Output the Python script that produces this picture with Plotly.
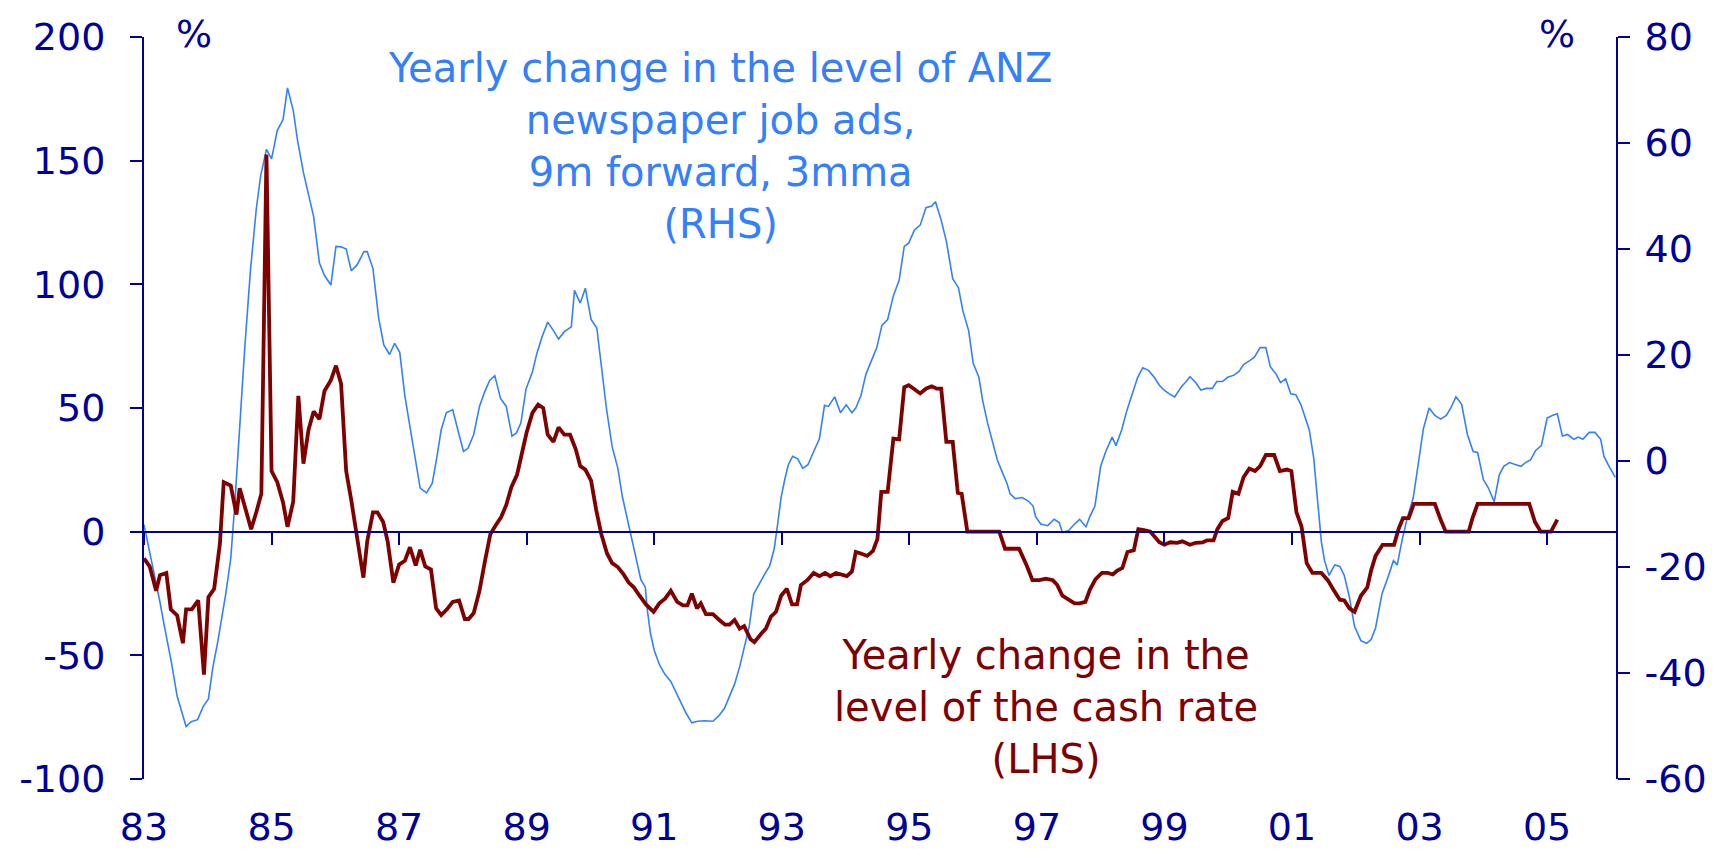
import plotly.graph_objects as go

# ---- data ----
# ANZ newspaper job ads, yearly change, 9m forward, 3mma (RHS, %)
blue_year = [1983.00, 1983.12, 1983.25, 1983.32, 1983.43, 1983.52, 1983.66, 1983.74, 1983.84, 1983.93,
             1984.01, 1984.08, 1984.16, 1984.28, 1984.36, 1984.42, 1984.50, 1984.58, 1984.67, 1984.76,
             1984.83, 1984.92, 1985.00, 1985.09, 1985.18, 1985.25, 1985.34, 1985.41, 1985.50, 1985.57,
             1985.66, 1985.75, 1985.83, 1985.93, 1986.01, 1986.09, 1986.17, 1986.25, 1986.34, 1986.45,
             1986.50, 1986.59, 1986.68, 1986.76, 1986.85, 1986.93, 1987.01, 1987.09, 1987.19, 1987.27,
             1987.33, 1987.43, 1987.52, 1987.59, 1987.66, 1987.74, 1987.84, 1987.92, 1988.01, 1988.08,
             1988.17, 1988.26, 1988.34, 1988.42, 1988.50, 1988.59, 1988.68, 1988.77, 1988.84, 1988.91,
             1988.99, 1989.09, 1989.16, 1989.24, 1989.33, 1989.42, 1989.50, 1989.59, 1989.70, 1989.75,
             1989.84, 1989.92, 1990.01, 1990.10, 1990.17, 1990.25, 1990.34, 1990.43, 1990.50, 1990.59,
             1990.69, 1990.79, 1990.86, 1990.89, 1990.94, 1991.00, 1991.08, 1991.17, 1991.26, 1991.40,
             1991.50, 1991.59, 1991.68, 1991.79, 1991.92, 1992.01, 1992.10, 1992.18, 1992.26, 1992.34,
             1992.41, 1992.49, 1992.56, 1992.65, 1992.73, 1992.81, 1992.88, 1992.93, 1992.99, 1993.05,
             1993.10, 1993.17, 1993.25, 1993.33, 1993.41, 1993.50, 1993.59, 1993.67, 1993.73, 1993.83,
             1993.92, 1994.01, 1994.10, 1994.16, 1994.24, 1994.32, 1994.43, 1994.49, 1994.57, 1994.66,
             1994.75, 1994.84, 1994.92, 1994.99, 1995.08, 1995.17, 1995.26, 1995.35, 1995.41, 1995.50,
             1995.58, 1995.68, 1995.77, 1995.84, 1995.93, 1996.00, 1996.09, 1996.15, 1996.23, 1996.31,
             1996.38, 1996.46, 1996.53, 1996.58, 1996.66, 1996.77, 1996.87, 1996.94, 1996.98, 1997.06,
             1997.17, 1997.27, 1997.35, 1997.40, 1997.50, 1997.59, 1997.67, 1997.77, 1997.83, 1997.91,
             1998.00, 1998.08, 1998.18, 1998.24, 1998.29, 1998.33, 1998.41, 1998.50, 1998.58, 1998.66,
             1998.75, 1998.84, 1998.92, 1998.99, 1999.07, 1999.16, 1999.26, 1999.34, 1999.40, 1999.49,
             1999.57, 1999.66, 1999.75, 1999.82, 1999.91, 1999.99, 2000.09, 2000.17, 2000.24, 2000.33,
             2000.41, 2000.50, 2000.59, 2000.66, 2000.75, 2000.82, 2000.90, 2000.98, 2001.06, 2001.14,
             2001.20, 2001.27, 2001.34, 2001.40, 2001.46, 2001.51, 2001.58, 2001.67, 2001.75, 2001.82,
             2001.90, 2001.98, 2002.08, 2002.17, 2002.24, 2002.31, 2002.41, 2002.50, 2002.59, 2002.65,
             2002.73, 2002.81, 2002.90, 2002.98, 2003.06, 2003.15, 2003.24, 2003.33, 2003.42, 2003.49,
             2003.57, 2003.66, 2003.75, 2003.84, 2003.91, 2004.00, 2004.08, 2004.17, 2004.25, 2004.32,
             2004.41, 2004.51, 2004.59, 2004.66, 2004.74, 2004.82, 2004.91, 2005.00, 2005.08, 2005.16,
             2005.24, 2005.32, 2005.42, 2005.49, 2005.56, 2005.66, 2005.75, 2005.84, 2005.89, 2005.98,
             2006.07]
blue_value = [-12.0, -18.9, -26.6, -31.2, -38.0, -44.4, -50.1, -49.2, -48.8, -46.3,
              -44.9, -38.9, -33.9, -25.2, -18.4, -8.8, 6.8, 21.4, 36.1, 47.5,
              53.9, 58.8, 57.0, 62.4, 64.4, 70.4, 66.1, 60.3, 54.4, 50.7,
              46.1, 37.4, 35.0, 33.2, 40.5, 40.4, 40.0, 35.9, 37.0, 39.5,
              39.5, 36.3, 26.9, 21.9, 20.1, 22.2, 20.5, 12.3, 5.0, -1.4,
              -5.1, -6.0, -4.2, 0.6, 5.9, 9.1, 9.7, 5.9, 1.8, 2.4,
              5.0, 10.3, 13.0, 15.2, 16.1, 11.8, 10.3, 4.7, 5.3, 7.2,
              13.6, 16.8, 20.3, 23.4, 26.2, 24.6, 23.0, 24.4, 25.3, 32.2,
              29.8, 32.6, 26.7, 25.1, 17.8, 10.0, 2.7, -1.4, -6.7, -11.5,
              -17.4, -22.4, -23.8, -27.9, -32.5, -35.7, -38.4, -40.3, -41.6, -45.3,
              -47.6, -49.4, -49.1, -49.0, -49.1, -48.1, -46.7, -44.4, -42.1, -38.8,
              -35.3, -31.2, -25.1, -23.0, -21.4, -19.8, -16.6, -12.4, -6.8, -3.3,
              -0.8, 0.9, 0.4, -1.4, -0.7, 1.8, 4.2, 10.5, 10.3, 12.1,
              9.1, 10.6, 9.1, 10.0, 12.3, 16.4, 19.6, 21.4, 25.6, 26.7,
              31.2, 34.1, 40.5, 41.1, 43.6, 44.5, 47.8, 48.1, 48.9, 45.4,
              41.5, 34.4, 32.7, 28.3, 24.6, 18.5, 15.8, 11.4, 7.0, 3.3,
              0.2, -2.2, -4.2, -6.2, -7.1, -6.9, -7.6, -8.5, -10.5, -11.9,
              -12.2, -11.0, -11.6, -13.5, -13.1, -11.9, -11.0, -12.4, -10.5, -8.5,
              -1.0, 1.8, 4.5, 2.9, 4.8, 5.9, 9.5, 13.0, 15.8, 17.6,
              17.1, 15.8, 14.3, 13.4, 12.7, 12.1, 13.9, 15.0, 15.9, 14.8,
              13.4, 13.7, 13.7, 15.0, 15.0, 15.8, 16.2, 16.9, 18.2, 18.9,
              19.6, 21.4, 21.4, 17.8, 16.4, 14.8, 15.5, 12.7, 12.5, 10.6,
              8.6, 5.9, 0.6, -6.9, -15.2, -18.8, -21.6, -19.6, -19.9, -21.6,
              -25.7, -31.2, -33.9, -34.4, -33.7, -31.5, -25.1, -22.1, -18.8, -19.6,
              -14.7, -10.6, -7.0, -0.5, 6.1, 10.0, 8.6, 7.9, 8.6, 10.0,
              12.1, 10.7, 5.0, 1.8, 1.6, -3.5, -5.1, -7.7, -2.6, -1.0,
              -0.3, -0.7, -1.0, -0.3, 0.2, 2.0, 2.9, 8.1, 8.6, 8.9,
              4.7, 5.0, 4.1, 4.5, 4.1, 5.4, 5.4, 4.1, 0.9, -1.2,
              -3.1]

# Yearly change in the level of the cash rate (LHS, %)
red_year = [1983.00, 1983.09, 1983.19, 1983.25, 1983.35, 1983.42, 1983.52, 1983.61, 1983.66, 1983.75,
            1983.85, 1983.94, 1984.01, 1984.10, 1984.19, 1984.25, 1984.36, 1984.45, 1984.50, 1984.59,
            1984.68, 1984.76, 1984.84, 1984.92, 1985.00, 1985.09, 1985.18, 1985.25, 1985.34, 1985.42,
            1985.50, 1985.58, 1985.66, 1985.75, 1985.83, 1985.93, 1986.01, 1986.09, 1986.17, 1986.25,
            1986.34, 1986.44, 1986.50, 1986.59, 1986.66, 1986.75, 1986.82, 1986.91, 1987.00, 1987.09,
            1987.17, 1987.26, 1987.33, 1987.41, 1987.50, 1987.58, 1987.66, 1987.75, 1987.84, 1987.94,
            1988.03, 1988.09, 1988.17, 1988.26, 1988.34, 1988.43, 1988.51, 1988.60, 1988.68, 1988.76,
            1988.85, 1988.93, 1989.00, 1989.09, 1989.18, 1989.26, 1989.33, 1989.42, 1989.50, 1989.59,
            1989.68, 1989.77, 1989.84, 1989.92, 1990.01, 1990.09, 1990.17, 1990.26, 1990.34, 1990.43,
            1990.52, 1990.60, 1990.68, 1990.77, 1990.87, 1990.99, 1991.08, 1991.17, 1991.26, 1991.36,
            1991.45, 1991.52, 1991.59, 1991.67, 1991.73, 1991.81, 1991.92, 1992.02, 1992.11, 1992.18,
            1992.26, 1992.34, 1992.41, 1992.51, 1992.57, 1992.68, 1992.75, 1992.83, 1992.91, 1992.99,
            1993.08, 1993.16, 1993.24, 1993.30, 1993.40, 1993.50, 1993.59, 1993.68, 1993.76, 1993.85,
            1993.94, 1994.02, 1994.10, 1994.16, 1994.24, 1994.34, 1994.43, 1994.50, 1994.56, 1994.66,
            1994.75, 1994.84, 1994.92, 1994.99, 1995.08, 1995.17, 1995.26, 1995.35, 1995.43, 1995.50,
            1995.58, 1995.68, 1995.76, 1995.82, 1995.91, 1996.41, 1996.50, 1996.72, 1996.84, 1996.93,
            1997.04, 1997.14, 1997.25, 1997.32, 1997.40, 1997.51, 1997.59, 1997.67, 1997.76, 1997.83,
            1997.92, 1998.02, 1998.11, 1998.19, 1998.26, 1998.34, 1998.42, 1998.52, 1998.59, 1998.68,
            1998.78, 1998.92, 1999.00, 1999.09, 1999.20, 1999.28, 1999.40, 1999.49, 1999.60, 1999.67,
            1999.77, 1999.83, 1999.91, 2000.00, 2000.07, 2000.16, 2000.24, 2000.33, 2000.42, 2000.50,
            2000.59, 2000.72, 2000.81, 2000.92, 2000.99, 2001.07, 2001.15, 2001.23, 2001.32, 2001.46,
            2001.56, 2001.65, 2001.75, 2001.82, 2001.90, 2001.98, 2002.08, 2002.18, 2002.24, 2002.31,
            2002.42, 2002.60, 2002.67, 2002.74, 2002.83, 2002.91, 2003.24, 2003.33, 2003.41, 2003.77,
            2003.83, 2003.91, 2004.72, 2004.81, 2004.90, 2005.06, 2005.16]
red_value = [-10.8, -14.1, -23.9, -17.6, -16.7, -31.4, -33.9, -45.1, -31.4, -31.4,
             -27.8, -57.8, -26.5, -23.1, -4.9, 20.0, 18.6, 6.9, 17.6, 8.8,
             1.0, 7.8, 15.3, 152.5, 24.5, 20.0, 11.8, 2.0, 12.2, 54.9,
             27.5, 41.2, 48.6, 45.5, 56.9, 61.2, 67.1, 59.8, 24.5, 12.7,
             -2.9, -18.6, -3.9, 7.8, 7.8, 3.9, -3.9, -20.6, -13.3, -11.8,
             -6.3, -13.7, -7.3, -14.1, -15.3, -31.0, -33.7, -31.4, -28.4, -27.8,
             -35.3, -35.3, -32.9, -23.9, -12.7, -1.0, 2.4, 5.9, 10.8, 18.0,
             23.1, 31.8, 40.2, 48.0, 51.4, 50.0, 39.2, 36.3, 42.2, 39.2,
             39.2, 33.3, 26.5, 25.1, 20.6, 8.8, -1.0, -8.8, -12.7, -14.3,
             -17.3, -20.6, -22.5, -25.9, -29.4, -32.4, -29.0, -27.1, -23.9, -28.4,
             -29.8, -29.8, -25.1, -31.0, -29.0, -33.3, -33.3, -35.7, -37.6, -37.6,
             -35.7, -39.2, -38.2, -43.5, -44.7, -41.2, -39.2, -34.3, -32.4, -25.9,
             -23.1, -29.4, -29.4, -21.6, -19.6, -16.7, -18.0, -16.7, -18.0, -16.7,
             -17.6, -18.0, -16.1, -8.2, -8.8, -9.8, -7.8, -2.9, 16.1, 16.1,
             37.6, 37.3, 58.4, 59.2, 57.6, 55.9, 57.8, 58.8, 57.8, 57.8,
             36.3, 36.3, 15.7, 15.3, 0.0, 0.0, -6.9, -6.9, -13.7, -19.6,
             -19.6, -19.0, -19.6, -21.6, -25.9, -27.8, -29.0, -29.0, -28.4, -23.5,
             -19.2, -16.7, -16.7, -17.3, -15.7, -14.7, -8.2, -7.5, 1.0, 0.6,
             0.0, -4.3, -5.3, -4.3, -4.5, -3.9, -5.3, -4.5, -4.3, -3.5,
             -3.5, 1.0, 4.3, 5.5, 16.1, 15.3, 22.0, 25.5, 24.5, 26.5,
             31.0, 31.0, 24.5, 25.1, 24.5, 7.8, 2.0, -12.7, -16.7, -16.7,
             -19.6, -23.5, -27.5, -27.8, -31.0, -32.4, -25.9, -22.5, -15.7, -9.8,
             -5.3, -5.3, 1.0, 5.5, 5.5, 11.2, 11.2, 4.9, 0.0, 0.0,
             5.5, 11.2, 11.2, 3.9, 0.0, 0.0, 4.9]

x_tick_years = [1983, 1985, 1987, 1989, 1991, 1993, 1995, 1997, 1999, 2001, 2003, 2005]
x_tick_labels = ["83", "85", "87", "89", "91", "93", "95", "97", "99", "01", "03", "05"]
lhs_ticks = [-100, -50, 0, 50, 100, 150, 200]
rhs_ticks = [-60, -40, -20, 0, 20, 40, 60, 80]

# ---- styling ----
NAVY = "#000099"
BLUE = "#3380FF"
RED = "#800000"
FONT = "DejaVu Sans, Verdana, sans-serif"
FS = 38       # tick labels
FS_ANN = 40   # annotations

fig = go.Figure()

fig.add_trace(go.Scatter(
    x=blue_year, y=blue_value, mode="lines",
    line=dict(color=BLUE, width=1.6),
    yaxis="y", hoverinfo="x+y", name="Job ads (RHS)",
))
fig.add_trace(go.Scatter(
    x=red_year, y=red_value, mode="lines",
    line=dict(color=RED, width=3.8),
    yaxis="y2", hoverinfo="x+y", name="Cash rate (LHS)",
))

axis_common = dict(
    showline=True, linecolor=NAVY, linewidth=2,
    ticks="outside", ticklen=12, tickwidth=2, tickcolor=NAVY,
    showgrid=False, zeroline=False,
    tickfont=dict(family=FONT, size=FS, color=NAVY),
)

fig.update_layout(
    width=1723, height=849,
    paper_bgcolor="white", plot_bgcolor="white",
    showlegend=False,
    margin=dict(l=136, r=115, t=29, b=78, autoexpand=False),
    font=dict(family=FONT, size=FS, color=NAVY),
    xaxis=dict(
        range=[1983.0, 2006.08],
        tickvals=x_tick_years, ticktext=x_tick_labels,
        anchor="free", position=1/3,
        ticklabelstandoff=250,
        **axis_common,
    ),
    yaxis=dict(  # RHS
        side="right", range=[-60, 80],
        tickvals=rhs_ticks, ticktext=[str(v) for v in rhs_ticks],
        ticklabelstandoff=7,
        **axis_common,
    ),
    yaxis2=dict(  # LHS
        side="left", overlaying="y", range=[-100, 200],
        tickvals=lhs_ticks, ticktext=[str(v) for v in lhs_ticks],
        ticklabelstandoff=17,
        **axis_common,
    ),
)

fig.add_annotation(
    x=1992.03, y=155.8, xref="x", yref="y2",
    text="Yearly change in the level of ANZ<br>newspaper job ads,<br>9m forward, 3mma<br>(RHS)",
    showarrow=False, align="center", xanchor="center", yanchor="middle",
    font=dict(family=FONT, size=FS_ANN, color=BLUE),
)
fig.add_annotation(
    x=1997.15, y=-70.7, xref="x", yref="y2",
    text="Yearly change in the<br>level of the cash rate<br>(LHS)",
    showarrow=False, align="center", xanchor="center", yanchor="middle",
    font=dict(family=FONT, size=FS_ANN, color=RED),
)
# "%" unit markers above each axis (top of text box just inside the page)
fig.add_annotation(
    x=0.034, y=1.037, xref="paper", yref="paper",
    text="%", showarrow=False, xanchor="center", yanchor="top",
    font=dict(family=FONT, size=FS, color=NAVY),
)
fig.add_annotation(
    x=0.96, y=1.037, xref="paper", yref="paper",
    text="%", showarrow=False, xanchor="center", yanchor="top",
    font=dict(family=FONT, size=FS, color=NAVY),
)

fig.write_html("out.html")
